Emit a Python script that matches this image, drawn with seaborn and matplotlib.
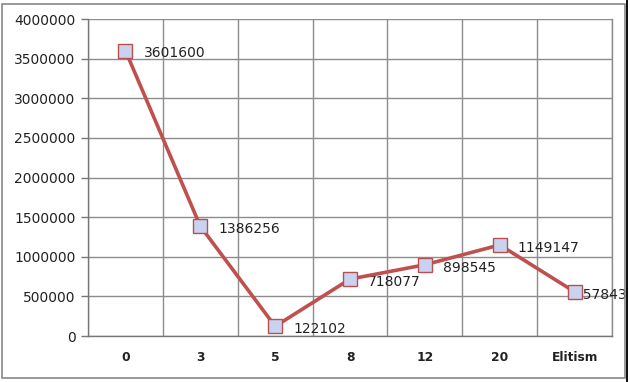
import numpy as np
import pandas as pd
import matplotlib
matplotlib.use("Agg")
import matplotlib.pyplot as plt
import seaborn as sns
from matplotlib.ticker import FixedLocator
from matplotlib.patches import Rectangle

categories = ["0", "3", "5", "8", "12", "20", "Elitism"]
values = [3601600, 1386256, 122102, 718077, 898545, 1149147, 557843]
y_ticks = [0, 500000, 1000000, 1500000, 2000000, 2500000, 3000000, 3500000, 4000000]

sns.set_theme(style="white")
plt.rcParams['font.family'] = ['DejaVu Sans']

fig = plt.figure(figsize=(6.3, 3.82), dpi=100)
ax = fig.add_axes([88/630, 1-336/382, (612-88)/630, (336-19)/382])

df = pd.DataFrame({"cat": categories, "val": values})
sns.lineplot(data=df, x="cat", y="val", sort=False, ax=ax,
             color="#C0504D", linewidth=2.6, marker="s", markersize=9.5,
             markerfacecolor="#C9D3F0", markeredgecolor="#B9504F",
             markeredgewidth=1.0, zorder=4)

n = len(categories)
ax.set_xlim(-0.5, n - 0.5)
ax.set_ylim(0, 4000000)
ax.set_yticks(y_ticks)
ax.set_yticklabels([str(v) for v in y_ticks], fontsize=10, color="#222222")
ax.set_xticks(range(n))
ax.set_xticklabels(categories, fontsize=8.8, fontweight="bold", color="#222222")
ax.xaxis.set_minor_locator(FixedLocator(np.arange(-0.5, n, 1.0)))
ax.tick_params(axis="x", which="major", length=0, pad=11)
ax.tick_params(axis="x", which="minor", length=5, color="#777777", width=1, direction="out")
ax.tick_params(axis="y", which="major", length=5, color="#777777", width=1, direction="out", pad=4, left=True)
ax.set_xlabel("")
ax.set_ylabel("")

ax.grid(False)
ax.yaxis.grid(True, which="major", color="#8C8C8C", linewidth=1)
ax.xaxis.grid(True, which="minor", color="#8C8C8C", linewidth=1)
ax.set_axisbelow(True)
ax.spines["top"].set_visible(False)
ax.spines["right"].set_visible(True)
ax.spines["right"].set_color("#8C8C8C")
ax.spines["right"].set_linewidth(1)
ax.spines["right"].set_zorder(0.5)
for s in ["left", "bottom"]:
    ax.spines[s].set_color("#777777")
    ax.spines[s].set_linewidth(1)

for i, v in enumerate(values):
    dx = 13 if i < n - 1 else 0.5
    ax.annotate(str(v), (i, v), xytext=(dx, -2), textcoords="offset points",
                ha="left", va="center", fontsize=10, color="#222222", zorder=3)

fig.patches.append(Rectangle((2/630, 4/382), 623/630, 374/382, transform=fig.transFigure,
                             fill=False, edgecolor="#888888", linewidth=1.2))
fig.patches.append(Rectangle((626/630, 0), 1.5/630, 1, transform=fig.transFigure,
                             facecolor="#111111", edgecolor="none", zorder=10))

fig.savefig("out.png", dpi=100)
